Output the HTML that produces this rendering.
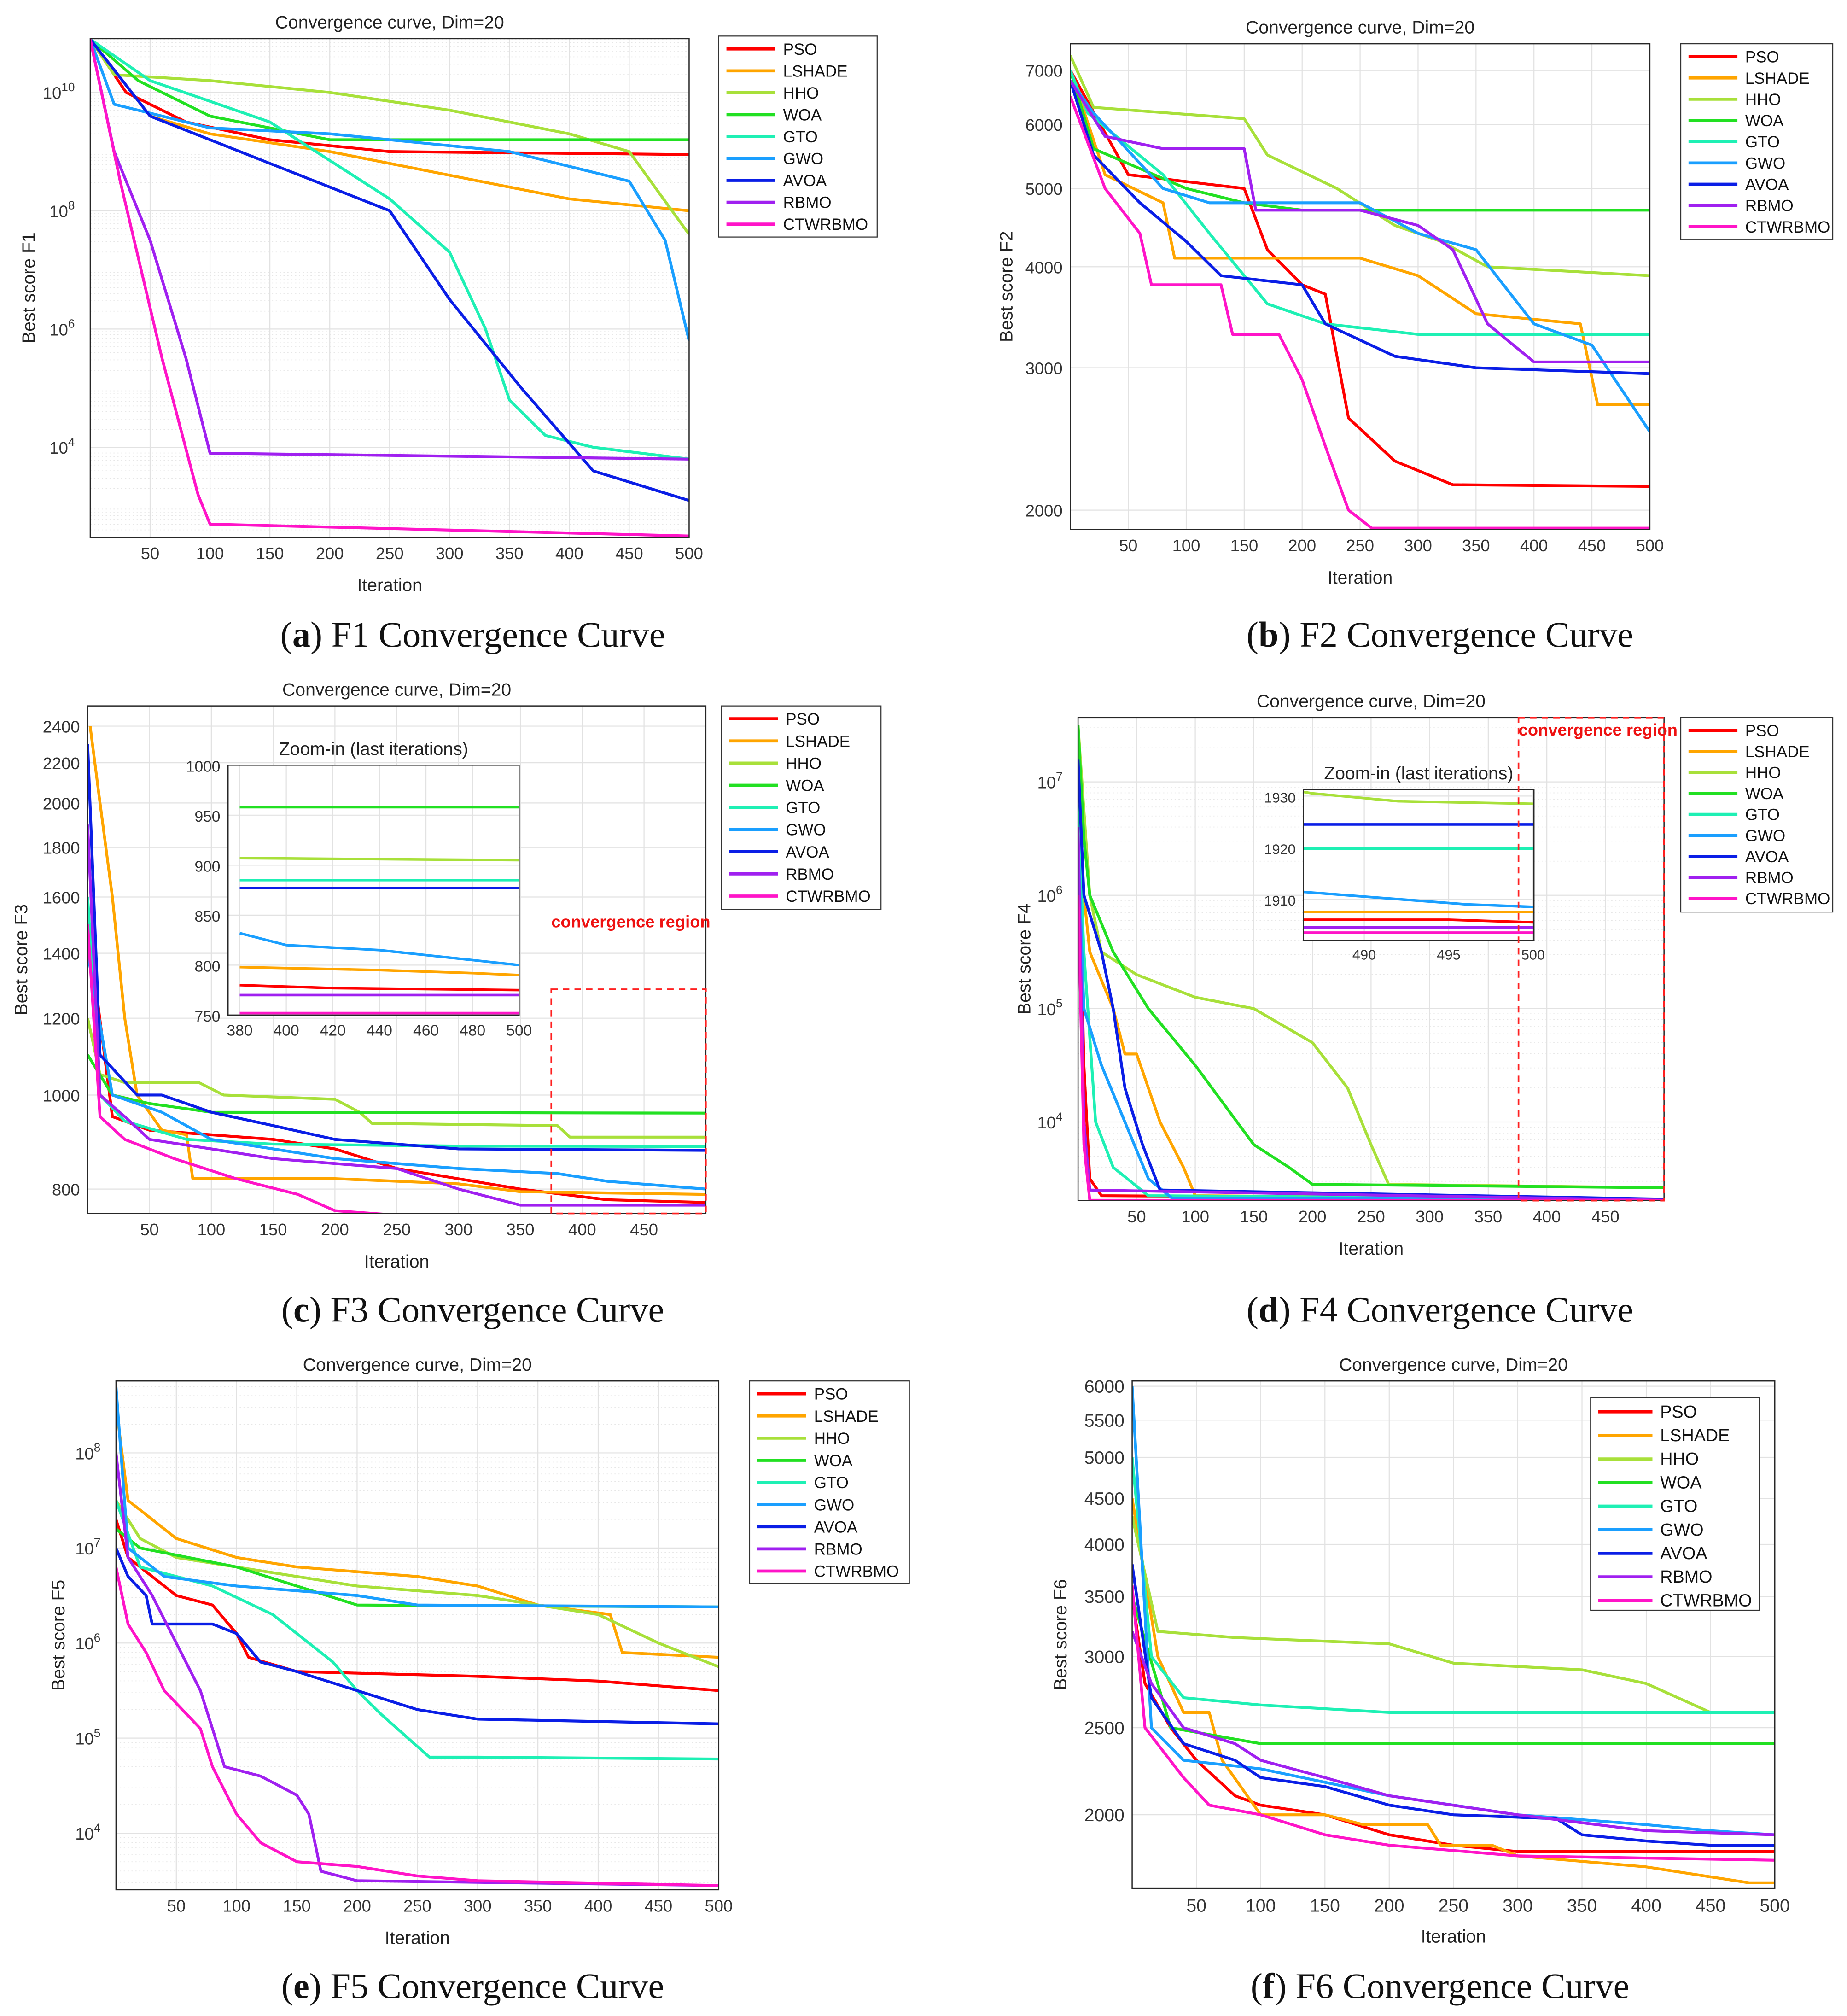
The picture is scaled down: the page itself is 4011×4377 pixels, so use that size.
<!DOCTYPE html>
<html><head><meta charset="utf-8"><title>Convergence curves</title>
<style>
html,body{margin:0;padding:0;background:#fff;}
svg{display:block;}
text{font-family:"Liberation Sans",sans-serif;}
.cap{font-family:"Liberation Serif",serif;font-size:28px;fill:#111;}
</style></head>
<body>
<svg id="root" xmlns="http://www.w3.org/2000/svg" width="4011" height="4377" viewBox="0 0 1434 1565"></svg>
<script>
// ---------- data (iteration, value) ----------
const NAMES = ['PSO','LSHADE','HHO','WOA','GTO','GWO','AVOA','RBMO','CTWRBMO'];
const COLORS = ['#ff0000','#ffa500','#a8e03a','#22e022','#1ef0b4','#1a9fff','#0a1ee6','#a020f0','#ff14c8'];
const XTICKS_500 = [50,100,150,200,250,300,350,400,450,500];
const XTICKS_450 = [50,100,150,200,250,300,350,400,450];

// F1 (log10 of best score)
const F1_PSO = [[0,10.9],[30,10],[80,9.5],[150,9.2],[250,9.0],[500,8.95]];
const F1_LSHADE = [[0,10.9],[50,9.6],[100,9.3],[200,9.0],[300,8.6],[400,8.2],[500,8.0]];
const F1_HHO = [[0,10.9],[20,10.3],[100,10.2],[200,10.0],[300,9.7],[400,9.3],[450,9.0],[500,7.6]];
const F1_WOA = [[0,10.9],[40,10.2],[100,9.6],[200,9.2],[500,9.2]];
const F1_GTO = [[0,10.9],[50,10.2],[150,9.5],[250,8.2],[300,7.3],[330,6.0],[350,4.8],[380,4.2],[420,4.0],[500,3.8]];
const F1_GWO = [[0,10.9],[20,9.8],[100,9.4],[200,9.3],[350,9.0],[450,8.5],[480,7.5],[500,5.8]];
const F1_AVOA = [[0,10.9],[50,9.6],[150,8.8],[250,8.0],[300,6.5],[360,5.0],[420,3.6],[500,3.1]];
const F1_RBMO = [[0,10.9],[20,9.0],[50,7.5],[80,5.5],[100,3.9],[500,3.8]];
const F1_CTWRBMO = [[0,10.9],[25,8.5],[60,5.5],[90,3.2],[100,2.7],[300,2.6],[500,2.5]];

// F2 (values)
const F2_PSO = [[0,7000],[50,5200],[150,5000],[170,4200],[200,3800],[220,3700],[240,2600],[280,2300],[330,2150],[500,2140]];
const F2_LSHADE = [[0,7000],[30,5200],[80,4800],[90,4100],[250,4100],[300,3900],[350,3500],[440,3400],[455,2700],[500,2700]];
const F2_HHO = [[0,7300],[20,6300],[150,6100],[170,5500],[230,5000],[280,4500],[320,4300],[360,4000],[500,3900]];
const F2_WOA = [[0,7000],[20,5600],[100,5000],[150,4800],[200,4700],[500,4700]];
const F2_GTO = [[0,7000],[15,6200],[80,5200],[120,4400],[170,3600],[220,3400],[300,3300],[500,3300]];
const F2_GWO = [[0,6800],[20,6200],[80,5000],[120,4800],[250,4800],[300,4400],[350,4200],[400,3400],[450,3200],[500,2500]];
const F2_AVOA = [[0,6800],[20,5500],[60,4800],[100,4300],[130,3900],[200,3800],[220,3400],[280,3100],[350,3000],[500,2950]];
const F2_RBMO = [[0,6800],[30,5800],[80,5600],[150,5600],[160,4700],[250,4700],[300,4500],[330,4200],[360,3400],[400,3050],[500,3050]];
const F2_CTWRBMO = [[0,6500],[30,5000],[60,4400],[70,3800],[130,3800],[140,3300],[180,3300],[200,2900],[220,2400],[240,2000],[260,1900],[500,1900]];

// F3 (values)
const F3_PSO = [[0,1500],[20,950],[50,920],[150,900],[200,880],[250,840],[350,800],[420,780],[500,775]];
const F3_LSHADE = [[2,2400],[10,2000],[20,1600],[30,1200],[40,1000],[60,920],[80,910],[85,820],[200,820],[300,810],[350,795],[500,790]];
const F3_HHO = [[0,1200],[10,1050],[30,1030],[90,1030],[110,1000],[200,990],[220,960],[230,935],[380,930],[390,905],[500,905]];
const F3_WOA = [[0,1100],[20,1000],[50,980],[100,960],[500,958]];
const F3_GTO = [[0,1600],[10,1000],[30,940],[80,900],[150,890],[300,886],[500,885]];
const F3_GWO = [[0,1400],[20,1000],[60,960],[100,900],[150,880],[200,860],[300,840],[380,830],[420,815],[500,800]];
const F3_AVOA = [[0,2300],[10,1100],[40,1000],[60,1000],[100,960],[150,930],[200,900],[250,890],[300,880],[500,877]];
const F3_RBMO = [[0,1900],[10,1000],[30,950],[50,900],[100,880],[150,860],[250,840],[300,800],[350,770],[500,770]];
const F3_CTWRBMO = [[0,1500],[10,950],[30,900],[70,860],[120,820],[170,790],[200,760],[250,752],[500,752]];
const F3Z_PSO = [[380,780],[420,777],[460,776],[500,775]];
const F3Z_LSHADE = [[380,798],[440,795],[480,792],[500,790]];
const F3Z_HHO = [[380,907],[500,905]];
const F3Z_WOA = [[380,958],[500,958]];
const F3Z_GTO = [[380,885],[500,885]];
const F3Z_GWO = [[380,832],[400,820],[440,815],[480,805],[500,800]];
const F3Z_AVOA = [[380,877],[500,877]];
const F3Z_RBMO = [[380,770],[500,770]];
const F3Z_CTWRBMO = [[380,752],[500,752]];

// F4 (log10)
const F4_PSO = [[0,6.8],[5,4.5],[10,3.5],[20,3.35],[500,3.32]];
const F4_LSHADE = [[0,6.5],[5,6.0],[10,5.5],[30,5.0],[40,4.6],[50,4.6],[70,4.0],[90,3.6],[100,3.35],[500,3.32]];
const F4_HHO = [[0,7.5],[10,6.0],[20,5.5],[50,5.3],[100,5.1],[150,5.0],[200,4.7],[230,4.3],[250,3.8],[265,3.45],[500,3.42]];
const F4_WOA = [[0,7.5],[5,6.5],[10,6.0],[30,5.5],[60,5.0],[100,4.5],[150,3.8],[180,3.6],[200,3.45],[500,3.42]];
const F4_GTO = [[0,6.8],[5,5.5],[15,4.0],[30,3.6],[60,3.35],[500,3.32]];
const F4_GWO = [[0,6.5],[5,5.0],[20,4.5],[40,4.0],[60,3.5],[80,3.33],[500,3.32]];
const F4_AVOA = [[0,7.2],[5,6.0],[20,5.5],[30,5.0],[40,4.3],[55,3.8],[70,3.4],[500,3.32]];
const F4_RBMO = [[0,6.6],[5,4.0],[10,3.4],[500,3.31]];
const F4_CTWRBMO = [[0,6.0],[5,3.8],[10,3.31],[500,3.31]];
const F4Z_PSO = [[486,1906],[495,1906],[500,1905.5]];
const F4Z_LSHADE = [[486,1907.5],[500,1907.5]];
const F4Z_HHO = [[486,1931],[487,1930.5],[492,1929],[500,1928.5]];
const F4Z_GTO = [[486,1919.8],[500,1919.8]];
const F4Z_GWO = [[486,1911.5],[492,1910],[496,1909],[500,1908.5]];
const F4Z_AVOA = [[486,1924.5],[500,1924.5]];
const F4Z_RBMO = [[486,1904.5],[500,1904.5]];
const F4Z_CTWRBMO = [[486,1903.5],[500,1903.5]];

// F5 (log10)
const F5_PSO = [[0,7.3],[10,6.9],[30,6.7],[50,6.5],[80,6.4],[100,6.1],[110,5.85],[150,5.7],[300,5.65],[400,5.6],[500,5.5]];
const F5_LSHADE = [[0,8.5],[10,7.5],[50,7.1],[100,6.9],[150,6.8],[250,6.7],[300,6.6],[350,6.4],[410,6.3],[420,5.9],[500,5.85]];
const F5_HHO = [[0,7.5],[20,7.1],[50,6.9],[100,6.8],[200,6.6],[300,6.5],[400,6.3],[450,6.0],[500,5.75]];
const F5_WOA = [[0,7.2],[20,7.0],[100,6.8],[150,6.6],[200,6.4],[500,6.38]];
const F5_GTO = [[0,7.5],[20,6.8],[80,6.6],[130,6.3],[180,5.8],[200,5.5],[220,5.25],[260,4.8],[300,4.8],[500,4.78]];
const F5_GWO = [[0,8.7],[10,7.0],[40,6.7],[100,6.6],[200,6.5],[250,6.4],[500,6.38]];
const F5_AVOA = [[0,7.0],[10,6.7],[25,6.5],[30,6.2],[80,6.2],[100,6.1],[120,5.8],[150,5.7],[200,5.5],[250,5.3],[300,5.2],[500,5.15]];
const F5_RBMO = [[0,8.0],[10,6.9],[30,6.5],[50,6.0],[70,5.5],[80,5.1],[90,4.7],[120,4.6],[150,4.4],[160,4.2],[170,3.6],[200,3.5],[500,3.45]];
const F5_CTWRBMO = [[0,6.8],[10,6.2],[25,5.9],[40,5.5],[70,5.1],[80,4.7],[100,4.2],[120,3.9],[150,3.7],[200,3.65],[250,3.55],[300,3.5],[500,3.45]];

// F6 (values)
const F6_PSO = [[0,3500],[10,2800],[30,2500],[50,2300],[80,2100],[100,2050],[150,2000],[200,1900],[250,1850],[300,1820],[500,1820]];
const F6_LSHADE = [[0,4500],[20,3000],[40,2600],[60,2600],[70,2300],[100,2000],[150,2000],[180,1950],[230,1950],[240,1850],[280,1850],[300,1800],[400,1750],[480,1680],[500,1680]];
const F6_HHO = [[0,4300],[20,3200],[80,3150],[200,3100],[250,2950],[350,2900],[400,2800],[450,2600],[500,2600]];
const F6_WOA = [[0,3500],[30,2500],[100,2400],[500,2400]];
const F6_GTO = [[0,5000],[15,3000],[40,2700],[100,2650],[200,2600],[500,2600]];
const F6_GWO = [[0,6000],[15,2500],[40,2300],[100,2250],[200,2100],[250,2050],[300,2000],[400,1950],[450,1920],[500,1900]];
const F6_AVOA = [[0,3800],[15,2700],[40,2400],[80,2300],[100,2200],[150,2150],[200,2050],[250,2000],[330,1980],[350,1900],[400,1870],[450,1850],[500,1850]];
const F6_RBMO = [[0,3200],[15,2800],[40,2500],[80,2400],[100,2300],[150,2200],[200,2100],[300,2000],[400,1920],[500,1900]];
const F6_CTWRBMO = [[0,3600],[10,2500],[40,2200],[60,2050],[100,2000],[150,1900],[200,1850],[300,1800],[500,1780]];

// ---------- drawing ----------
const NS = 'http://www.w3.org/2000/svg';
const root = document.getElementById('root');
let clipN = 0;
function el(tag, attrs, parent){
  const e = document.createElementNS(NS, tag);
  for (const k in attrs) e.setAttribute(k, attrs[k]);
  (parent||root).appendChild(e);
  return e;
}
function txt(s, attrs, parent){ const t = el('text', attrs, parent); t.textContent = s; return t; }

function chart(c){
  const g = el('g', {});
  
  
  const xs = v => c.L + (v - c.xmin) / (c.xmax - c.xmin) * (c.R - c.L);
  const tv = v => c.dataLog ? v : (c.logScale ? Math.log10(v) : v);
  const ys = v => c.B - (tv(v) - c.ymin) / (c.ymax - c.ymin) * (c.B - c.T);
  const bg = el('rect', {x:c.L, y:c.T, width:c.R-c.L, height:c.B-c.T, fill:'#fff', stroke:'none'}, g);
  
  
  // minor log grid
  if (c.logScale && c.minor){
    for (let d = Math.floor(c.ymin); d <= Math.ceil(c.ymax); d++){
      for (let m = 2; m < 10; m++){
        const lv = d + Math.log10(m);
        if (lv < c.ymin || lv > c.ymax) continue;
        const yy = c.B - (lv - c.ymin)/(c.ymax-c.ymin)*(c.B-c.T);
        el('line', {x1:c.L, x2:c.R, y1:yy, y2:yy, stroke:'#e6e6e6', 'stroke-width':0.6, 'stroke-dasharray':'1,2'}, g);
      }
    }
  }
  // grid + ticks
  const fs = c.fs || 13;
  c.xTicks.forEach(v => {
    const x = xs(v);
    const gl = el('line', {x1:x, x2:x, y1:c.T, y2:c.B, stroke:'#e2e2e2', 'stroke-width':0.8}, g);
    
    
    const tl = txt(String(v), {x:x, y:c.B + fs + 4, 'font-size':fs, 'text-anchor':'middle', fill:'#333'}, g);
    
    
  });
  c.yTicks.forEach(v => {
    const y = ys(v);
    const gl = el('line', {x1:c.L, x2:c.R, y1:y, y2:y, stroke:'#e2e2e2', 'stroke-width':0.8}, g);
    
    
    let tl;
    if (c.dataLog){
      tl = txt('10', {x:c.L - 12, y:y + 5, 'font-size':fs, 'text-anchor':'end', fill:'#333'}, g);
      const sp = el('tspan', {dy:-6, 'font-size':fs*0.72}, tl);
      sp.textContent = String(v);
    } else {
      tl = txt(String(v), {x:c.L - 6, y:y + 5, 'font-size':fs, 'text-anchor':'end', fill:'#333'}, g);
    }
    
    
  });
  // series
  const cid = 'clip' + (clipN++);
  const cp = el('clipPath', {id:cid}, g);
  el('rect', {x:c.L, y:c.T, width:c.R-c.L, height:c.B-c.T}, cp);
  const sg = el('g', {'clip-path':'url(#'+cid+')'}, g);
  c.series.forEach((s, i) => {
    if (!s) return;
    const p = el('polyline', {points: s.map(d => xs(d[0]).toFixed(2)+','+ys(d[1]).toFixed(2)).join(' '), fill:'none', stroke:COLORS[i], 'stroke-width':c.lw || 2.2, 'stroke-linejoin':'round'}, sg);
    
    
  });
  const fr = el('rect', {x:c.L, y:c.T, width:c.R-c.L, height:c.B-c.T, fill:'none', stroke:'#262626', 'stroke-width':0.9}, g);
  
  
  if (c.title){
    const t = txt(c.title, {x:(c.L+c.R)/2, y:c.T - 8, 'font-size':14, 'text-anchor':'middle', fill:'#222'}, g);
    
    
  }
  if (c.xlabel){
    const t = txt(c.xlabel, {x:(c.L+c.R)/2, y:c.B + 42, 'font-size':14, 'text-anchor':'middle', fill:'#222'}, g);
    
    
  }
  if (c.ylabel){
    const cy = (c.T+c.B)/2;
    const t = txt(c.ylabel, {x:c.ylx, y:cy, 'font-size':14, 'text-anchor':'middle', fill:'#222', transform:'rotate(-90 '+c.ylx+' '+cy+')'}, g);
    
    
  }
  if (c.legend){
    const lg = c.legend;
    const lgG = el('g', {}, g);
    
    
    el('rect', {x:lg.x, y:lg.y, width:lg.w, height:lg.h, fill:'#fff', stroke:'#333', 'stroke-width':0.8}, lgG);
    NAMES.forEach((n, i) => {
      const yy = lg.y + lg.first + i*lg.dy;
      const e = el('g', {}, lgG);
      
      
      el('line', {x1:lg.x+6, x2:lg.x+6+lg.ll, y1:yy, y2:yy, stroke:COLORS[i], 'stroke-width':2.4}, e);
      txt(n, {x:lg.x+12+lg.ll, y:yy+4.5, 'font-size':lg.fs, fill:'#111'}, e);
    });
  }
  return {xs, ys, g};
}

function caption(letter, rest, x, y, name){
  const t = el('text', {x:x, y:y, 'text-anchor':'middle', class:'cap'});
  
  
  const a = el('tspan', {}, t); a.textContent = '(';
  const b = el('tspan', {'font-weight':'bold'}, t); b.textContent = letter;
  const c = el('tspan', {}, t); c.textContent = ') ' + rest;
}

const TITLE = 'Convergence curve, Dim=20';
// (a)
chart({name:'chart-f1', L:70, T:30, R:535, B:417, xmin:0, xmax:500, ymin:2.48, ymax:10.91, dataLog:true, logScale:true, minor:true,
  xTicks:XTICKS_500, yTicks:[4,6,8,10], title:TITLE, xlabel:'Iteration', ylabel:'Best score F1', ylx:27,
  series:[F1_PSO,F1_LSHADE,F1_HHO,F1_WOA,F1_GTO,F1_GWO,F1_AVOA,F1_RBMO,F1_CTWRBMO],
  legend:{x:558,y:28,w:123,h:156,first:10,dy:17,ll:38,fs:12.5}});
caption('a','F1 Convergence Curve',367,502,'caption-a');
// (b)
chart({name:'chart-f2', L:831, T:34, R:1281, B:411, xmin:0, xmax:500, ymin:Math.log10(1893), ymax:Math.log10(7550), logScale:true,
  xTicks:XTICKS_500, yTicks:[2000,3000,4000,5000,6000,7000], title:TITLE, xlabel:'Iteration', ylabel:'Best score F2', ylx:786,
  series:[F2_PSO,F2_LSHADE,F2_HHO,F2_WOA,F2_GTO,F2_GWO,F2_AVOA,F2_RBMO,F2_CTWRBMO],
  legend:{x:1305,y:34,w:118,h:152,first:10,dy:16.5,ll:38,fs:12.5}});
caption('b','F2 Convergence Curve',1118,502,'caption-b');
// (c)
chart({name:'chart-f3', L:68, T:548, R:548, B:942, xmin:0, xmax:500, ymin:Math.log10(755), ymax:Math.log10(2518), logScale:true,
  xTicks:XTICKS_450, yTicks:[800,1000,1200,1400,1600,1800,2000,2200,2400], title:TITLE, xlabel:'Iteration', ylabel:'Best score F3', ylx:21,
  series:[F3_PSO,F3_LSHADE,F3_HHO,F3_WOA,F3_GTO,F3_GWO,F3_AVOA,F3_RBMO,F3_CTWRBMO],
  legend:{x:560,y:548,w:124,h:158,first:10,dy:17.2,ll:38,fs:12.5}});
chart({name:'inset-f3', L:177, T:594, R:403, B:788, xmin:375, xmax:500, ymin:750, ymax:1000, fs:12, lw:2,
  xTicks:[380,400,420,440,460,480,500], yTicks:[750,800,850,900,950,1000], title:'Zoom-in (last iterations)',
  series:[F3Z_PSO,F3Z_LSHADE,F3Z_HHO,F3Z_WOA,F3Z_GTO,F3Z_GWO,F3Z_AVOA,F3Z_RBMO,F3Z_CTWRBMO]});
(function(){
  const r = el('rect', {x:428, y:768, width:120, height:174, fill:'none', stroke:'#ff2020', 'stroke-width':1.3, 'stroke-dasharray':'5,4'});
  
  
  const t = txt('convergence region', {x:428, y:720, 'font-size':13, 'font-weight':'bold', fill:'#ee1111'});
  
  
})();
caption('c','F3 Convergence Curve',367,1026,'caption-c');
// (d)
chart({name:'chart-f4', L:837, T:557, R:1292, B:932, xmin:0, xmax:500, ymin:3.307, ymax:7.568, dataLog:true, logScale:true, minor:true,
  xTicks:XTICKS_450, yTicks:[4,5,6,7], title:TITLE, xlabel:'Iteration', ylabel:'Best score F4', ylx:800,
  series:[F4_PSO,F4_LSHADE,F4_HHO,F4_WOA,F4_GTO,F4_GWO,F4_AVOA,F4_RBMO,F4_CTWRBMO],
  legend:{x:1305,y:557,w:118,h:151,first:10,dy:16.3,ll:38,fs:12.5}});
chart({name:'inset-f4', L:1012, T:613, R:1191, B:730, xmin:486.4, xmax:500.05, ymin:1902, ymax:1931.25, fs:11, lw:2,
  xTicks:[490,495,500], yTicks:[1910,1920,1930], title:'Zoom-in (last iterations)',
  series:[F4Z_PSO,F4Z_LSHADE,F4Z_HHO,null,F4Z_GTO,F4Z_GWO,F4Z_AVOA,F4Z_RBMO,F4Z_CTWRBMO]});
(function(){
  const r = el('rect', {x:1179, y:557, width:113, height:375, fill:'none', stroke:'#ff2020', 'stroke-width':1.3, 'stroke-dasharray':'5,4'});
  
  
  const cp = el('clipPath', {id:'clipD'});
  el('rect', {x:1179, y:550, width:127, height:30}, cp);
  const t = txt('convergence region', {x:1179, y:571, 'font-size':13, 'font-weight':'bold', fill:'#ee1111', 'clip-path':'url(#clipD)'});
  
  
})();
caption('d','F4 Convergence Curve',1118,1026,'caption-d');
// (e)
chart({name:'chart-f5', L:90, T:1072, R:558, B:1467, xmin:0, xmax:500, ymin:3.405, ymax:8.757, dataLog:true, logScale:true, minor:true,
  xTicks:XTICKS_500, yTicks:[4,5,6,7,8], title:TITLE, xlabel:'Iteration', ylabel:'Best score F5', ylx:50,
  series:[F5_PSO,F5_LSHADE,F5_HHO,F5_WOA,F5_GTO,F5_GWO,F5_AVOA,F5_RBMO,F5_CTWRBMO],
  legend:{x:582,y:1072,w:124,h:157,first:10,dy:17.2,ll:38,fs:12.5}});
caption('e','F5 Convergence Curve',367,1551,'caption-e');
// (f)
chart({name:'chart-f6', L:879, T:1072, R:1378, B:1466, xmin:0, xmax:500, ymin:3.219, ymax:3.784, logScale:true,
  xTicks:XTICKS_500, yTicks:[2000,2500,3000,3500,4000,4500,5000,5500,6000], title:TITLE, xlabel:'Iteration', ylabel:'Best score F6', ylx:828, fs:14,
  series:[F6_PSO,F6_LSHADE,F6_HHO,F6_WOA,F6_GTO,F6_GWO,F6_AVOA,F6_RBMO,F6_CTWRBMO],
  legend:{x:1235,y:1085,w:131,h:165,first:11,dy:18.3,ll:42,fs:13.5}});
caption('f','F6 Convergence Curve',1118,1551,'caption-f');
</script>
</body></html>
